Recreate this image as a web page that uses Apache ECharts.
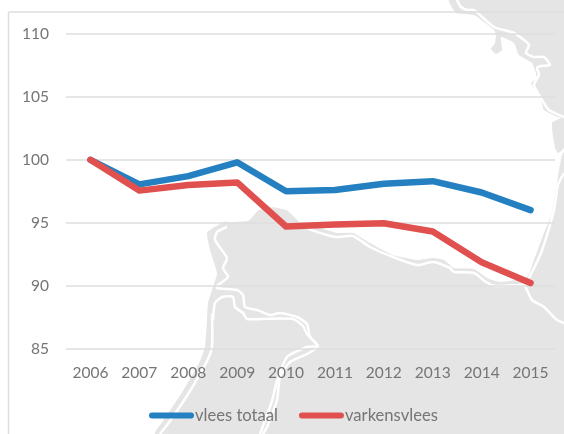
<!DOCTYPE html>
<html>
<head>
<meta charset="utf-8">
<style>html,body{margin:0;padding:0;background:#fff}#c{width:564px;height:434px}</style>
<script src="https://cdn.jsdelivr.net/npm/echarts@6/dist/echarts.min.js"></script>
</head>
<body>
<div id="c"></div>
<script>
const years = ['2006','2007','2008','2009','2010','2011','2012','2013','2014','2015'];
const vleesTotaal = [100, 98.05, 98.7, 99.8, 97.5, 97.6, 98.1, 98.3, 97.4, 96];
const varkensvlees = [100, 97.55, 98, 98.2, 94.7, 94.85, 94.95, 94.3, 91.85, 90.2];

// Decorative background map (not data)
const landMain = [[207,233],[213,228],[227,221],[248,221],[258,210],[273,207],[287,210],[297,218],[303,228],[320,228],[337,233],[353,233],[370,243],[393,255],[417,260],[433,258],[444,260],[454,268],[474,269],[487,278],[500,282],[527,277],[534,260],[544,233],[552,213],[556,190],[559,170],[562,155],[564,152],[564,434],[155,434],[163,421],[183,391],[200,361],[205,347],[207,320],[208,303],[213,287],[217,273],[210,250]];
const landNorth = [[449,0],[456,13],[474,15],[494,30],[496,35],[495,43],[491,49],[496,54],[502,50],[501,37],[514,43],[519,55],[532,63],[537,78],[531,83],[541,100],[544,110],[564,118],[564,0]];
const landIsland = [[552,123],[564,118],[564,148],[558,153],[555,148]];
const coastLines = [
  [[227,221],[248,219],[258,209],[273,206],[287,209],[297,218],[307,228],[327,235],[337,237],[353,236],[370,247],[393,257],[417,265],[433,262],[450,268],[454,272],[474,273],[486,282],[496,286],[524,285],[527,290],[532,300],[544,307],[557,320],[564,323]],
  [[529,278],[541,253],[554,210],[558,185],[564,173]],
  [[227,227],[217,232],[215,240],[227,258],[223,268],[228,277],[218,285],[217,288],[237,290],[243,295],[245,307],[257,310],[270,315],[280,313],[297,317],[307,324],[310,337],[318,346],[307,347],[287,357],[277,381],[272,401],[260,434]],
  [[213,320],[215,303],[222,297],[233,297],[235,307],[243,313],[247,319],[260,319],[293,319],[303,326],[307,334],[318,346],[307,354],[290,362],[280,377],[277,400],[267,427],[263,434]],
  [[212,314],[212,347],[207,361],[190,391],[170,421],[160,434]],
  [[457,0],[461,7],[467,10],[474,10],[494,27],[514,33],[524,40],[529,45],[526,53],[534,57],[544,57],[550,65],[541,66],[537,68],[539,75],[534,85],[542,100],[549,110],[564,117]]
];

const chart = echarts.init(document.getElementById('c'), null, {renderer:'canvas'});
const font = 'Lato';
const land = pts => ({type:'polygon', z:-20, silent:true, shape:{points:pts, smooth:0.15}, style:{fill:'#e5e5e5'}});
const coast = pts => ({type:'polyline', z:-19, silent:true, shape:{points:pts, smooth:0.2}, style:{fill:null, stroke:'#fff', lineWidth:2.5}});
chart.setOption({
  animation:false,
  backgroundColor:'#fff',
  graphic:[
    land(landMain), land(landNorth), land(landIsland),
    ...coastLines.map(coast),
    {type:'line', z:-18, silent:true, shape:{x1:8.5,y1:12,x2:564,y2:12}, style:{stroke:'#dedede', lineWidth:1.5}},
    {type:'line', z:-18, silent:true, shape:{x1:8.5,y1:12,x2:8.5,y2:434}, style:{stroke:'#dedede', lineWidth:1.5}}
  ],
  grid:{left:66, right:9, top:34, height:314.5, containLabel:false},
  legend:{
    left:144, top:402, itemWidth:45, itemHeight:6, itemGap:21,
    icon:'path://M3 0H42A3 3 0 0 1 42 6H3A3 3 0 0 1 3 0Z',
    textStyle:{color:'#757575', fontFamily:font, fontSize:16.6, padding:[0,0,0,-4]},
    data:['vlees totaal','varkensvlees']
  },
  xAxis:{
    type:'category', data:years, boundaryGap:true,
    axisLine:{show:false}, axisTick:{show:false},
    axisLabel:{color:'#757575', fontFamily:font, fontSize:15.5, margin:16, interval:0}
  },
  yAxis:{
    type:'value', min:85, max:110, interval:5,
    axisLine:{show:false}, axisTick:{show:false},
    axisLabel:{color:'#757575', fontFamily:font, fontSize:15.5, margin:17},
    splitLine:{lineStyle:{color:'#dedede', width:1.5}}
  },
  series:[
    {name:'vlees totaal', type:'line', data:vleesTotaal, symbol:'none', smooth:false,
     lineStyle:{color:'#2480c0', width:6.5, cap:'round', join:'round'}, itemStyle:{color:'#2480c0'}},
    {name:'varkensvlees', type:'line', data:varkensvlees, symbol:'none', smooth:false,
     lineStyle:{color:'#e0504e', width:6.5, cap:'round', join:'round'}, itemStyle:{color:'#e0504e'}}
  ]
});
</script>
</body>
</html>
